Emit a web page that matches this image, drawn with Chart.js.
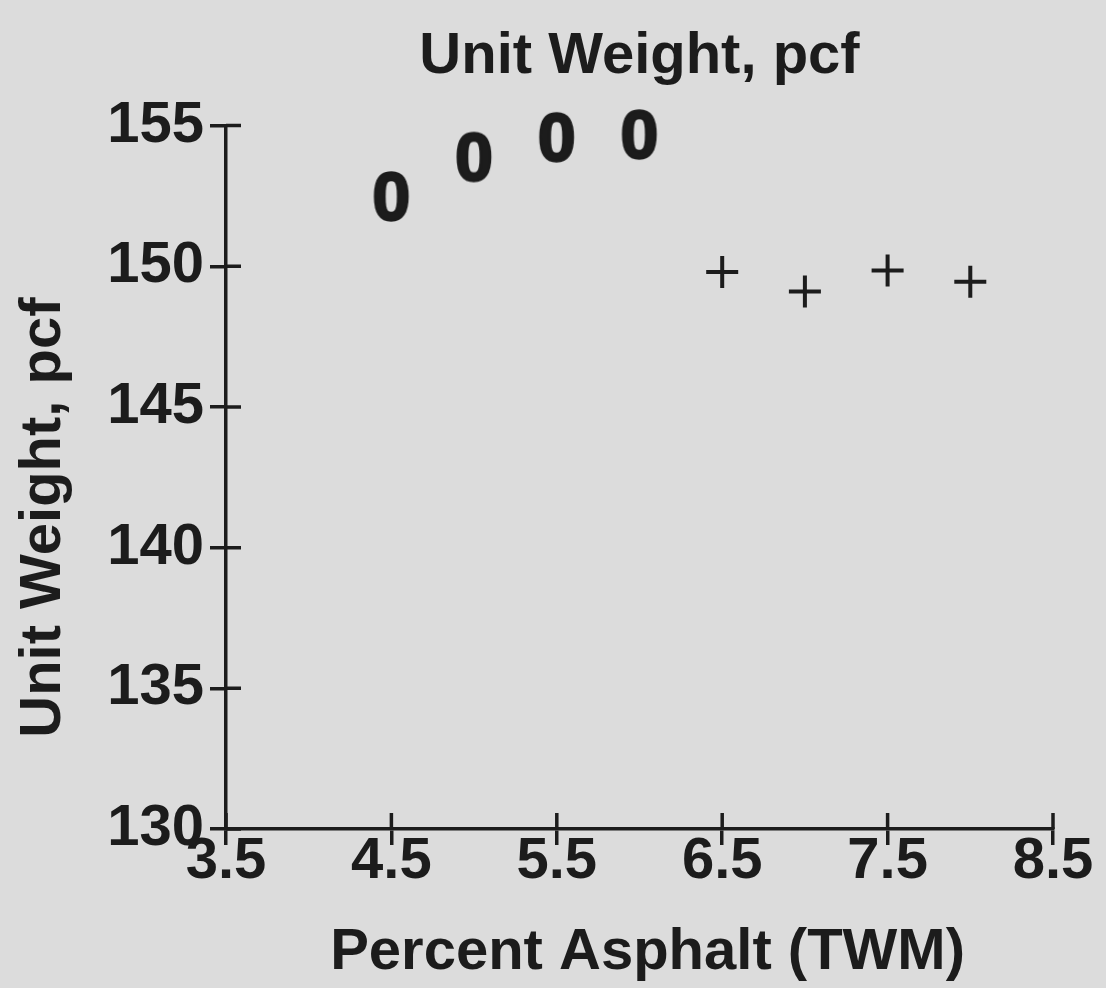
<!DOCTYPE html>
<html>
<head>
<meta charset="utf-8">
<script src="https://cdn.jsdelivr.net/npm/chart.js@4.4.1/dist/chart.umd.min.js"></script>
<style>
  body { margin: 0; background: #dcdcdc; }
  #myChart { display: block; }
</style>
</head>
<body>
<canvas id="myChart" width="1106" height="988"></canvas>
<script>
// data
const asphaltA = [4.5, 5.0, 5.5, 6.0];
const weightA = [152.5, 153.9, 154.6, 154.7];
const asphaltB = [6.5, 7.0, 7.5, 8.0];
const weightB = [149.8, 149.1, 149.85, 149.45];

const xTicks = [3.5, 4.5, 5.5, 6.5, 7.5, 8.5];
const yTicks = [130, 135, 140, 145, 150, 155];

const ink = '#1c1c1c';
const fontName = "'Liberation Sans', Arial, sans-serif";

// "0" marker drawn as a little canvas
function zeroMark() {
  const c = document.createElement('canvas');
  c.width = 48; c.height = 62;
  const g = c.getContext('2d');
  g.fillStyle = ink;
  g.strokeStyle = ink;
  g.lineWidth = 2.5;
  g.lineJoin = 'round';
  g.font = 'bold 68px ' + fontName;
  g.textAlign = 'center';
  g.textBaseline = 'alphabetic';
  g.fillText('0', 24, 55);
  g.strokeText('0', 24, 55);
  return c;
}

function pts(xs, ys) {
  return xs.map((x, i) => ({x: x, y: ys[i]}));
}

// tick marks cross the axis: draw the inner half here
const innerTicks = {
  id: 'innerTicks',
  afterDraw(chart) {
    const ctx = chart.ctx;
    const xs = chart.scales.x, ys = chart.scales.y;
    const area = chart.chartArea;
    ctx.save();
    ctx.strokeStyle = ink;
    ctx.lineWidth = 3.5;
    ctx.beginPath();
    xTicks.forEach(v => {
      const px = xs.getPixelForValue(v);
      ctx.moveTo(px, area.bottom);
      ctx.lineTo(px, area.bottom - 16);
    });
    yTicks.forEach(v => {
      const py = ys.getPixelForValue(v);
      ctx.moveTo(area.left, py);
      ctx.lineTo(area.left + 15, py);
    });
    ctx.stroke();
    ctx.restore();
  }
};

Chart.defaults.font.family = fontName;
Chart.defaults.color = ink;

const ctx = document.getElementById('myChart');
const myChart = new Chart(ctx, {
  type: 'scatter',
  data: {
    datasets: [{
      data: pts(asphaltA, weightA),
      pointStyle: zeroMark(),
      pointRadius: 20,
      clip: false
    }, {
      data: pts(asphaltB, weightB),
      pointStyle: 'cross',
      pointRadius: 16,
      borderColor: ink,
      borderWidth: 4,
      clip: false
    }]
  },
  options: {
    responsive: false,
    animation: false,
    layout: { padding: { left: 0, right: 53, top: 0, bottom: 0 } },
    plugins: {
      legend: { display: false },
      tooltip: { enabled: false },
      title: {
        display: true,
        text: 'Unit Weight, pcf',
        fullSize: false,
        color: ink,
        font: { size: 58, weight: 'bold' },
        padding: { top: 22, bottom: 34 }
      }
    },
    scales: {
      x: {
        type: 'linear',
        min: 3.5,
        max: 8.5,
        afterFit: s => { s.height = 159; },
        afterBuildTicks: s => { s.ticks = xTicks.map(v => ({value: v})); },
        border: { color: ink, width: 3.5 },
        grid: { drawOnChartArea: false, tickLength: 16, color: ink, lineWidth: 3.5 },
        ticks: {
          color: ink,
          padding: -12,
          font: { size: 58, weight: 'bold', lineHeight: 1 },
          maxRotation: 0,
          callback: v => v.toFixed(1)
        },
        title: {
          display: true,
          text: ' Percent Asphalt (TWM)',
          color: ink,
          font: { size: 58, weight: 'bold' },
          padding: { top: 0, bottom: 0 }
        }
      },
      y: {
        min: 130,
        max: 155,
        afterFit: s => { s.width = 226; },
        afterBuildTicks: s => { s.ticks = yTicks.map(v => ({value: v})); },
        border: { color: ink, width: 3.5 },
        grid: { drawOnChartArea: false, tickLength: 16, color: ink, lineWidth: 3.5 },
        ticks: {
          color: ink,
          padding: 6,
          font: { size: 58, weight: 'bold', lineHeight: 1 }
        },
        title: {
          display: true,
          text: 'Unit Weight, pcf     ',
          color: ink,
          font: { size: 58, weight: 'bold' },
          padding: { top: 9, bottom: 0 }
        }
      }
    }
  },
  plugins: [innerTicks]
});
</script>
</body>
</html>
